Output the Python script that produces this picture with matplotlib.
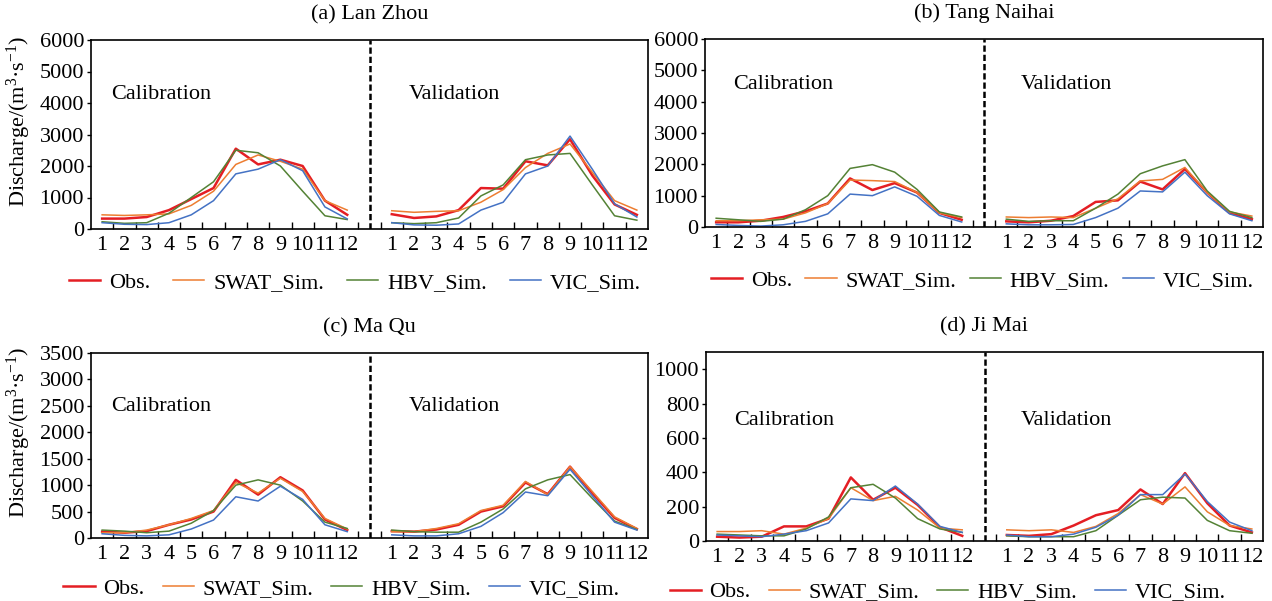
import numpy as np
import matplotlib.pyplot as plt

plt.rcParams['font.family'] = 'Liberation Serif'
plt.rcParams['mathtext.fontset'] = 'custom'
plt.rcParams['mathtext.rm'] = 'Liberation Serif'
plt.rcParams['mathtext.it'] = 'Liberation Serif:italic'

months = [str(m) for m in range(1, 13)]
series = ['Obs.', 'SWAT_Sim.', 'HBV_Sim.', 'VIC_Sim.']
colors = ['#E41E24', '#ED7D31', '#548235', '#4472C4']
widths = [1.8, 1.1, 1.1, 1.1]

# (a) Lan Zhou
lz_cal_obs = [330, 330, 380, 600, 950, 1300, 2550, 2050, 2200, 2000, 900, 450]
lz_cal_swat = [450, 430, 450, 480, 750, 1200, 2050, 2350, 2150, 1900, 900, 600]
lz_cal_hbv = [230, 180, 200, 500, 1000, 1500, 2500, 2420, 2000, 1200, 420, 300]
lz_cal_vic = [200, 150, 140, 200, 450, 900, 1750, 1900, 2200, 1850, 700, 320]
lz_val_obs = [470, 350, 400, 600, 1300, 1280, 2150, 2020, 2850, 1700, 780, 450]
lz_val_swat = [580, 530, 560, 580, 850, 1250, 1950, 2400, 2700, 1800, 900, 600]
lz_val_hbv = [200, 170, 200, 350, 1050, 1400, 2200, 2350, 2400, 1400, 420, 280]
lz_val_vic = [200, 130, 120, 160, 600, 850, 1750, 2000, 2950, 1900, 800, 380]

# (b) Tang Naihai
tn_cal_obs = [150, 150, 200, 320, 500, 750, 1550, 1180, 1400, 1100, 450, 230]
tn_cal_swat = [200, 200, 230, 250, 450, 750, 1500, 1480, 1450, 1100, 450, 300]
tn_cal_hbv = [280, 230, 180, 250, 550, 1000, 1870, 1990, 1750, 1200, 480, 320]
tn_cal_vic = [80, 50, 30, 70, 180, 420, 1050, 1000, 1280, 980, 370, 160]
tn_val_obs = [180, 150, 200, 350, 800, 850, 1450, 1200, 1850, 1100, 450, 250]
tn_val_swat = [320, 300, 320, 300, 600, 900, 1470, 1520, 1900, 1100, 480, 350]
tn_val_hbv = [250, 180, 200, 200, 600, 1050, 1700, 1950, 2150, 1150, 500, 300]
tn_val_vic = [100, 70, 70, 80, 300, 600, 1150, 1120, 1750, 1000, 420, 200]

# (c) Ma Qu
mq_cal_obs = [120, 100, 130, 250, 350, 500, 1100, 820, 1150, 900, 350, 150]
mq_cal_swat = [100, 100, 150, 250, 370, 520, 1050, 850, 1130, 880, 370, 170]
mq_cal_hbv = [150, 130, 100, 130, 280, 520, 1000, 1100, 1000, 700, 300, 180]
mq_cal_vic = [80, 50, 40, 60, 170, 340, 780, 700, 980, 730, 250, 120]
mq_val_obs = [130, 120, 160, 250, 500, 600, 1050, 830, 1350, 850, 380, 170]
mq_val_swat = [120, 120, 180, 270, 520, 620, 1070, 820, 1350, 880, 400, 180]
mq_val_hbv = [150, 120, 110, 110, 300, 550, 930, 1100, 1200, 750, 320, 160]
mq_val_vic = [60, 40, 40, 80, 220, 480, 870, 800, 1300, 800, 300, 150]

# (d) Ji Mai
jm_cal_obs = [25, 20, 25, 85, 85, 130, 370, 240, 310, 210, 80, 30]
jm_cal_swat = [55, 55, 60, 40, 75, 130, 310, 235, 260, 180, 75, 65]
jm_cal_hbv = [40, 35, 30, 30, 70, 140, 310, 330, 250, 130, 70, 50]
jm_cal_vic = [35, 30, 25, 40, 60, 105, 245, 235, 320, 215, 85, 50]
jm_val_obs = [35, 30, 40, 90, 150, 180, 300, 215, 395, 220, 90, 50]
jm_val_swat = [65, 60, 65, 50, 85, 160, 270, 215, 315, 170, 90, 70]
jm_val_hbv = [30, 25, 25, 25, 60, 150, 240, 255, 250, 120, 60, 45]
jm_val_vic = [35, 25, 25, 40, 80, 150, 270, 270, 390, 230, 110, 60]

W, H = 1272, 601
FS = 16
panels = [
    dict(title='(a) Lan Zhou', box=(91, 648, 40, 229), ymax=6000, step=1000, ylab=True,
         cal=[lz_cal_obs, lz_cal_swat, lz_cal_hbv, lz_cal_vic],
         val=[lz_val_obs, lz_val_swat, lz_val_hbv, lz_val_vic],
         ty=0.71, tx=(0.036, 0.57), lx=0.474, ly=-0.285, cs=1.03),
    dict(title='(b) Tang Naihai', box=(705, 1263, 39, 227), ymax=6000, step=1000, ylab=False,
         cal=[tn_cal_obs, tn_cal_swat, tn_cal_hbv, tn_cal_vic],
         val=[tn_val_obs, tn_val_swat, tn_val_hbv, tn_val_vic],
         ty=0.76, tx=(0.05, 0.565), lx=0.497, ly=-0.285, cs=0.6),
    dict(title='(c) Ma Qu', box=(91, 648, 353, 538), ymax=3500, step=500, ylab=True,
         cal=[mq_cal_obs, mq_cal_swat, mq_cal_hbv, mq_cal_vic],
         val=[mq_val_obs, mq_val_swat, mq_val_hbv, mq_val_vic],
         ty=0.71, tx=(0.036, 0.57), lx=0.45, ly=-0.275, cs=0.8),
    dict(title='(d) Ji Mai', box=(706, 1263, 352, 541), ymax=1100, step=200, ylab=False,
         cal=[jm_cal_obs, jm_cal_swat, jm_cal_hbv, jm_cal_vic],
         val=[jm_val_obs, jm_val_swat, jm_val_hbv, jm_val_vic],
         ty=0.635, tx=(0.05, 0.565), lx=0.434, ly=-0.27, cs=0.8),
]

fig = plt.figure(figsize=(W / 100, H / 100), dpi=100)
xc = np.arange(1, 13)
xv = np.arange(14, 26)

for p in panels:
    l, r, t, b = p['box']
    ax = fig.add_axes([l / W, 1 - b / H, (r - l) / W, (b - t) / H])
    handles = []
    for i in range(4):
        h, = ax.plot(xc, p['cal'][i], color=colors[i], lw=widths[i])
        ax.plot(xv, p['val'][i], color=colors[i], lw=widths[i])
        handles.append(h)
    ax.axvline(13, color='black', lw=1.8, ls=(0, (2.5, 1.2)))
    ax.set_xlim(0.5, 25.5)
    ax.set_ylim(0, p['ymax'])
    ax.set_yticks(np.arange(0, p['ymax'] + 1, p['step']))
    ax.set_xticks(np.concatenate([xc, xv]))
    ax.set_xticklabels(months + months)
    ax.set_xticks(np.arange(1.5, 25, 1), minor=True)
    ax.tick_params(axis='x', which='major', length=0, labelsize=FS, pad=5)
    ax.tick_params(axis='x', which='minor', direction='in', length=5, width=1)
    ax.tick_params(axis='y', direction='out', length=3, width=1, labelsize=FS, pad=2)
    for s in ax.spines.values():
        s.set_linewidth(1.2)
    ax.set_title(p['title'], fontsize=FS, pad=15)
    if p['ylab']:
        ax.set_ylabel('Discharge/(m$^{3}$·s$^{-1}$)', fontsize=FS)
        ax.yaxis.set_label_coords(-0.104, 0.57)
    ax.text(p['tx'][0], p['ty'], 'Calibration', transform=ax.transAxes,
            fontsize=FS, ha='left', va='center')
    ax.text(p['tx'][1], p['ty'], 'Validation', transform=ax.transAxes,
            fontsize=FS, ha='left', va='center')
    ax.legend(handles, series, loc='center', bbox_to_anchor=(p['lx'], p['ly']),
              ncol=4, frameon=False, fontsize=FS, handlelength=1.4,
              columnspacing=p['cs'], handletextpad=0.4)

fig.savefig('out.png', dpi=100)
